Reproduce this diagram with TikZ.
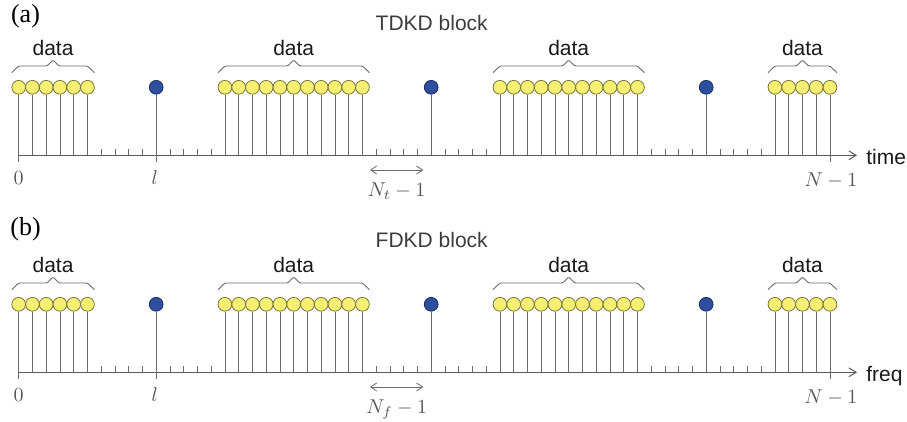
\documentclass[tikz,border=0pt]{standalone}
\usepackage{fontspec}
\setsansfont{Liberation Sans}
\newfontfamily\timesfont{Liberation Serif}
\usetikzlibrary{arrows.meta}
\definecolor{dyellow}{HTML}{F6EF72}
\definecolor{dyedge}{HTML}{77773A}
\definecolor{pblue}{HTML}{2E4F9F}
\definecolor{pbedge}{HTML}{1C2F66}
\definecolor{stemc}{HTML}{6A6A6A}
\definecolor{labc}{HTML}{555555}
\definecolor{blkc}{HTML}{3C3C3C}
\tikzset{
  datac/.style={circle, draw=dyedge, fill=dyellow, line width=0.4pt, minimum size=6.9pt, inner sep=0pt},
  pilotc/.style={circle, draw=pbedge, fill=pblue, line width=0.4pt, minimum size=6.9pt, inner sep=0pt},
  stemline/.style={draw=stemc, line width=0.45pt},
  axisline/.style={draw=stemc!85!black, line width=0.5pt},
  tickmark/.style={draw=stemc, line width=0.4pt},
  bracepath/.style={draw=stemc, line width=0.45pt, rounded corners=0.6pt},
  sanslab/.style={font=\sffamily\fontsize{10.5}{12}\selectfont, text=black!90, inner sep=0pt},
  blklab/.style={font=\sffamily\fontsize{10.5}{12}\selectfont, text=blkc, inner sep=0pt},
  mathlab/.style={font=\fontsize{10}{12}\selectfont, text=labc, inner sep=0pt},
  panellab/.style={font=\timesfont\fontsize{13}{15}\selectfont, text=black, inner sep=0pt},
  spanarrow/.style={draw=stemc, line width=0.4pt, {Straight Barb[length=3pt,width=4pt]}-{Straight Barb[length=3pt,width=4pt]}}
}
\begin{document}
\begin{tikzpicture}[x=0.5pt,y=-0.5pt]
\useasboundingbox (0,0) rectangle (907,422);
\foreach \p/\off/\lab/\laby/\blk/\ax/\sub in {a/0/(a)/16/TDKD/time/t, b/217/(b)/229/FDKD/freq/f}{
  \pgfmathsetmacro\ya{155.3+\off}
  \pgfmathsetmacro\yc{87.3+\off}
  % panel label and block title
  \node[panellab] (\p lab) at (25.5,\laby) {\lab};
  \node[blklab] (\p blk) at (431.7,{23.3+\off}) {\blk{} block};
  % axis
  \coordinate (\p ax0) at (18.7,\ya);
  \coordinate (\p axend) at (857,\ya);
  \draw[axisline,-{Straight Barb[length=3.6pt,width=4.4pt]}] (\p ax0) -- (\p axend);
  \node[sanslab, anchor=base west] (\p axl) at (866,{165+\off}) {\ax};
  % data samples and braces
  \foreach \s/\e/\g in {0/5/1, 15/25/2, 35/45/3, 55/59/4}{
    \foreach \i in {\s,...,\e}{
      \pgfmathsetmacro\xx{18.7+13.75*\i}
      \node[datac] (\p d\i) at (\xx,\yc) {};
      \coordinate (\p x\i) at (\xx,\ya);
      \draw[stemline] (\p d\i.south) -- (\p x\i);
    }
    \pgfmathsetmacro\bl{18.7+13.75*\s-7}
    \pgfmathsetmacro\br{18.7+13.75*\e+7}
    \pgfmathsetmacro\bm{(\bl+\br)/2}
    \coordinate (\p bl\g) at (\bl,{72.7+\off});
    \coordinate (\p br\g) at (\br,{72.7+\off});
    \draw[bracepath] (\p bl\g) -- ++(7,-6.7) -- ({\bm-6},{66+\off}) -- (\bm,{60+\off}) -- ({\bm+6},{66+\off}) -- ({\br-7},{66+\off}) -- (\p br\g);
    \node[sanslab] (\p data\g) at (\bm,{47.5+\off}) {data};
  }
  % pilots
  \foreach \i in {10,30,50}{
    \pgfmathsetmacro\xx{18.7+13.75*\i}
    \node[pilotc] (\p pl\i) at (\xx,\yc) {};
    \coordinate (\p x\i) at (\xx,\ya);
    \draw[stemline] (\p pl\i.south) -- (\p x\i);
  }
  % small ticks
  \foreach \i in {6,...,9,11,12,13,14,26,27,28,29,31,32,33,34,46,47,48,49,51,52,53,54}{
    \pgfmathsetmacro\xx{18.7+13.75*\i}
    \coordinate (\p x\i) at (\xx,\ya);
    \draw[tickmark] (\p x\i) -- ++(0,-6);
  }
  % ticks below axis
  \foreach \i in {0,10,59}{
    \draw[tickmark] (\p x\i) -- ++(0,7);
  }
  % index labels
  \node[mathlab, anchor=base] (\p zero) at (18.7,{184.5+\off}) {$0$};
  \node[mathlab, anchor=base] (\p ell) at (154.7,{185+\off}) {$l$};
  \node[mathlab, anchor=base] (\p nm) at (831,{186.7+\off}) {$N-1$};
  \coordinate (\p sa) at (370,{170+\off});
  \coordinate (\p sb) at (423.3,{170+\off});
  \draw[spanarrow] (\p sa) -- (\p sb);
  \node[mathlab, anchor=base] (\p nsub) at (396.7,{196.5+\off}) {$N_\sub-1$};
}
\end{tikzpicture}
\end{document}
